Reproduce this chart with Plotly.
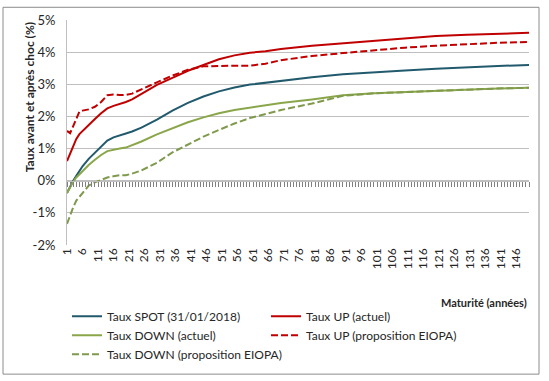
import plotly.graph_objects as go

maturites = [1, 2, 3, 4, 5, 6, 8, 10, 12, 14, 16, 18, 20, 22, 25, 30, 35, 40, 45, 50,
             55, 60, 65, 70, 80, 90, 100, 110, 120, 130, 140, 150]

taux_spot = [-0.38, -0.18, 0.00, 0.15, 0.30, 0.45, 0.68, 0.87, 1.07, 1.25, 1.35, 1.42, 1.47, 1.53, 1.65, 1.90,
             2.18, 2.42, 2.62, 2.78, 2.90, 2.99, 3.05, 3.10, 3.22, 3.31, 3.38, 3.43, 3.48, 3.53, 3.57, 3.60]

taux_up_actuel = [0.61, 0.85, 1.10, 1.30, 1.45, 1.55, 1.75, 1.92, 2.10, 2.25, 2.33, 2.38, 2.45, 2.53, 2.70, 2.98,
                  3.20, 3.42, 3.60, 3.78, 3.90, 3.98, 4.03, 4.10, 4.20, 4.28, 4.36, 4.44, 4.50, 4.54, 4.58, 4.60]

taux_down_actuel = [-0.38, -0.20, -0.03, 0.10, 0.20, 0.30, 0.49, 0.65, 0.80, 0.92, 0.97, 1.00, 1.03, 1.10, 1.22, 1.44,
                    1.64, 1.82, 1.97, 2.10, 2.20, 2.28, 2.35, 2.42, 2.53, 2.66, 2.72, 2.76, 2.80, 2.84, 2.87, 2.89]

taux_up_eiopa = [1.55, 1.48, 1.70, 1.95, 2.15, 2.18, 2.22, 2.30, 2.45, 2.66, 2.68, 2.67, 2.67, 2.71, 2.85, 3.06,
                 3.27, 3.45, 3.56, 3.58, 3.58, 3.58, 3.64, 3.75, 3.88, 3.97, 4.06, 4.14, 4.20, 4.25, 4.29, 4.32]

taux_down_eiopa = [-1.34, -1.05, -0.83, -0.62, -0.50, -0.38, -0.15, -0.05, 0.03, 0.10, 0.14, 0.17, 0.17, 0.22, 0.32, 0.56,
                   0.88, 1.12, 1.37, 1.58, 1.78, 1.95, 2.08, 2.20, 2.40, 2.64, 2.72, 2.76, 2.80, 2.84, 2.87, 2.89]

x_tick_vals = list(range(1, 150, 5))
x_tick_text = [str(v) for v in x_tick_vals]
y_tick_vals = [-2, -1, 0, 1, 2, 3, 4, 5]
y_tick_text = [f"{v}%" for v in y_tick_vals]
Y_MIN, Y_MAX = -2, 5

FONT = "Lato"
BLUE = "#215A6C"
RED = "#C00000"
GREEN = "#8AA64A"
GREEN_D = "#7F9A4C"
GRID = "#BFBFBF"
TICK = "#808080"
TXT = "#262626"
CLEAR = "rgba(0,0,0,0)"

# name, values, colour, dash, axes.
# The "x2/y2" pair covers only the positive part of the plot with the same scale
# (range 0..5 over the upper 5/7 of the height), so its x-axis sits on the 0% line.
series = [
    ("Taux SPOT (31/01/2018)", taux_spot, BLUE, "solid", "x", "y"),
    ("Taux UP (actuel)", taux_up_actuel, RED, "solid", "x", "y"),
    ("Taux DOWN (actuel)", taux_down_actuel, GREEN, "solid", "x", "y"),
    ("Taux UP (proposition EIOPA)", taux_up_eiopa, RED, "7px,3px", "x2", "y2"),
    ("Taux DOWN (proposition EIOPA)", taux_down_eiopa, GREEN_D, "7px,3px", "x", "y"),
]

fig = go.Figure()
for name, vals, color, dash, xa, ya in series:
    fig.add_trace(go.Scatter(x=maturites, y=vals, name=name, mode="lines", xaxis=xa, yaxis=ya,
                             line=dict(color=color, width=2, dash=dash)))

W, H = 549, 381
L, R, T, B = 67, 20, 15, 136
pw, ph = W - L - R, H - T - B

def px_x(px):
    return (px - L) / pw

def px_y(py):
    return (H - B - py) / ph

zero_frac = (0 - Y_MIN) / (Y_MAX - Y_MIN)

fig.update_layout(
    width=W, height=H,
    margin=dict(l=L, r=R, t=T, b=B),
    paper_bgcolor="white", plot_bgcolor=CLEAR,
    font=dict(family=FONT, size=12, color=TXT),
    showlegend=True,
    legend=dict(orientation="h", x=px_x(67), y=px_y(303), xanchor="left", yanchor="top",
                entrywidth=154, entrywidthmode="pixels", itemwidth=30,
                font=dict(family=FONT, size=12, color=TXT), bgcolor=CLEAR),
    xaxis=dict(range=[1, 150], domain=[0, 1], anchor="y", tickvals=x_tick_vals, ticktext=x_tick_text,
               tickangle=-90, showgrid=False, showline=False, zeroline=False, ticks="",
               tickfont=dict(family=FONT, size=12, color=TXT)),
    yaxis=dict(range=[Y_MIN, Y_MAX], domain=[0, 1], anchor="x", tickvals=y_tick_vals, ticktext=y_tick_text,
               showgrid=True, gridcolor=GRID, gridwidth=1, zeroline=False,
               showline=True, linecolor=GRID, linewidth=1, ticks="", ticklabelstandoff=8,
               tickfont=dict(family=FONT, size=13, color=TXT)),
    xaxis2=dict(range=[1, 150], domain=[0, 1], anchor="y2", layer="above traces",
                showline=True, linecolor=GRID, linewidth=1,
                ticks="outside", tick0=1, dtick=1, ticklen=5, tickwidth=1, tickcolor=TICK,
                showticklabels=False, gridcolor=CLEAR, zerolinecolor=CLEAR),
    yaxis2=dict(range=[0, Y_MAX], domain=[zero_frac, 1], anchor="x2",
                showticklabels=False, gridcolor=CLEAR, zerolinecolor=CLEAR),
    shapes=[dict(type="rect", xref="paper", yref="paper",
                 x0=px_x(3), x1=px_x(539), y0=px_y(377), y1=px_y(2),
                 line=dict(color="#8C8C8C", width=1), fillcolor=CLEAR, layer="below")],
    annotations=[
        dict(text="<b>Taux avant et après choc (%)</b>", xref="paper", yref="paper",
             x=px_x(29), y=px_y(94), xanchor="center", yanchor="middle", textangle=-90,
             showarrow=False, font=dict(family=FONT, size=12, color=TXT)),
        dict(text="<b>Maturité (années)</b>", xref="paper", yref="paper",
             x=px_x(529), y=px_y(304), xanchor="right", yanchor="middle", showarrow=False,
             font=dict(family=FONT, size=11, color=TXT)),
    ],
)

fig.write_html("out.html", config={"displayModeBar": False},
               post_script="document.body.style.margin='0px';document.body.style.overflow='hidden';")
